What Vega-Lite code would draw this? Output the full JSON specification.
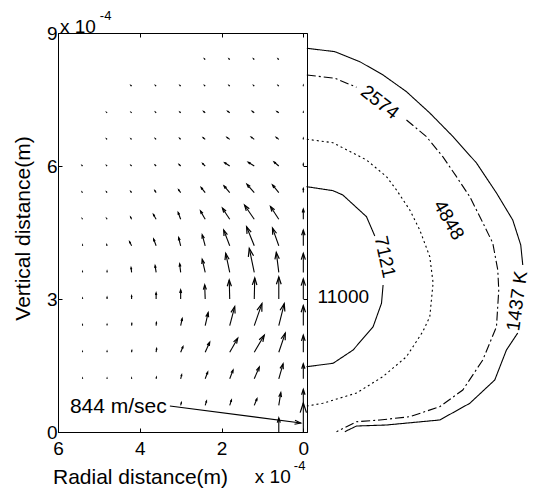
{
  "$schema": "https://vega.github.io/schema/vega-lite/v6.json",
  "width": 249,
  "height": 399,
  "autosize": {"type": "none"},
  "padding": {"left": 58, "top": 33, "right": 226, "bottom": 60},
  "background": "white",
  "config": {
    "view": {"stroke": "black", "strokeWidth": 1},
    "font": "Liberation Sans",
    "axis": {"labelFont": "Liberation Sans", "titleFont": "Liberation Sans", "labelColor": "black", "titleColor": "black", "tickColor": "black", "domainColor": "black", "grid": false, "titleFontWeight": "normal"}
  },
  "datasets": {
    "arrows": [
      {"r":2.4,"z":8.4,"r2":2.417,"z2":8.416,"dir":-45,"speed":29},
      {"r":1.8,"z":8.4,"r2":1.817,"z2":8.416,"dir":-45,"speed":29},
      {"r":1.2,"z":8.4,"r2":1.217,"z2":8.416,"dir":-45,"speed":29},
      {"r":0.6,"z":8.4,"r2":0.617,"z2":8.416,"dir":-45,"speed":29},
      {"r":4.2,"z":7.8,"r2":4.217,"z2":7.816,"dir":-45,"speed":29},
      {"r":3.6,"z":7.8,"r2":3.617,"z2":7.816,"dir":-45,"speed":29},
      {"r":3.0,"z":7.8,"r2":3.017,"z2":7.816,"dir":-45,"speed":29},
      {"r":2.4,"z":7.8,"r2":2.417,"z2":7.816,"dir":-45,"speed":29},
      {"r":1.8,"z":7.8,"r2":1.817,"z2":7.816,"dir":-45,"speed":29},
      {"r":1.2,"z":7.8,"r2":1.217,"z2":7.816,"dir":-45,"speed":29},
      {"r":0.6,"z":7.8,"r2":0.617,"z2":7.816,"dir":-45,"speed":29},
      {"r":0,"z":7.8,"r2":0,"z2":7.818,"dir":0,"speed":23},
      {"r":4.8,"z":7.2,"r2":4.812,"z2":7.211,"dir":-45,"speed":21},
      {"r":4.2,"z":7.2,"r2":4.212,"z2":7.211,"dir":-45,"speed":21},
      {"r":3.6,"z":7.2,"r2":3.615,"z2":7.214,"dir":-45,"speed":25},
      {"r":3.0,"z":7.2,"r2":3.020,"z2":7.218,"dir":-45,"speed":33},
      {"r":2.4,"z":7.2,"r2":2.437,"z2":7.229,"dir":-49,"speed":58},
      {"r":1.8,"z":7.2,"r2":1.849,"z2":7.234,"dir":-53,"speed":73},
      {"r":1.2,"z":7.2,"r2":1.249,"z2":7.234,"dir":-53,"speed":73},
      {"r":0.6,"z":7.2,"r2":0.644,"z2":7.229,"dir":-54,"speed":65},
      {"r":0,"z":7.2,"r2":0,"z2":7.216,"dir":0,"speed":20},
      {"r":4.8,"z":6.6,"r2":4.812,"z2":6.611,"dir":-45,"speed":21},
      {"r":4.2,"z":6.6,"r2":4.215,"z2":6.614,"dir":-45,"speed":25},
      {"r":3.6,"z":6.6,"r2":3.620,"z2":6.618,"dir":-45,"speed":33},
      {"r":3.0,"z":6.6,"r2":3.024,"z2":6.623,"dir":-45,"speed":41},
      {"r":2.4,"z":6.6,"r2":2.449,"z2":6.638,"dir":-50,"speed":76},
      {"r":1.8,"z":6.6,"r2":1.866,"z2":6.645,"dir":-53,"speed":98},
      {"r":1.2,"z":6.6,"r2":1.273,"z2":6.650,"dir":-54,"speed":108},
      {"r":0.6,"z":6.6,"r2":0.661,"z2":6.645,"dir":-51,"speed":93},
      {"r":0,"z":6.6,"r2":0,"z2":6.623,"dir":0,"speed":29},
      {"r":5.4,"z":6.0,"r2":5.412,"z2":6.011,"dir":-45,"speed":21},
      {"r":4.8,"z":6.0,"r2":4.812,"z2":6.011,"dir":-45,"speed":21},
      {"r":4.2,"z":6.0,"r2":4.215,"z2":6.014,"dir":-45,"speed":25},
      {"r":3.6,"z":6.0,"r2":3.624,"z2":6.023,"dir":-45,"speed":41},
      {"r":3.0,"z":6.0,"r2":3.037,"z2":6.034,"dir":-45,"speed":62},
      {"r":2.4,"z":6.0,"r2":2.461,"z2":6.056,"dir":-45,"speed":103},
      {"r":1.8,"z":6.0,"r2":1.922,"z2":6.074,"dir":-57,"speed":174},
      {"r":1.2,"z":6.0,"r2":1.347,"z2":6.083,"dir":-58,"speed":205},
      {"r":0.6,"z":6.0,"r2":0.715,"z2":6.090,"dir":-50,"speed":180},
      {"r":0,"z":6.0,"r2":0,"z2":6.045,"dir":0,"speed":58},
      {"r":5.4,"z":5.4,"r2":5.410,"z2":5.411,"dir":-39,"speed":19},
      {"r":4.8,"z":5.4,"r2":4.812,"z2":5.414,"dir":-40,"speed":23},
      {"r":4.2,"z":5.4,"r2":4.220,"z2":5.423,"dir":-39,"speed":37},
      {"r":3.6,"z":5.4,"r2":3.632,"z2":5.445,"dir":-33,"speed":69},
      {"r":3.0,"z":5.4,"r2":3.049,"z2":5.461,"dir":-37,"speed":98},
      {"r":2.4,"z":5.4,"r2":2.498,"z2":5.513,"dir":-39,"speed":186},
      {"r":1.8,"z":5.4,"r2":1.939,"z2":5.551,"dir":-40,"speed":256},
      {"r":1.2,"z":5.4,"r2":1.378,"z2":5.587,"dir":-41,"speed":322},
      {"r":0.6,"z":5.4,"r2":0.754,"z2":5.574,"dir":-39,"speed":290},
      {"r":0,"z":5.4,"r2":0,"z2":5.490,"dir":0,"speed":116},
      {"r":5.4,"z":4.8,"r2":5.407,"z2":4.811,"dir":-31,"speed":17},
      {"r":4.8,"z":4.8,"r2":4.812,"z2":4.818,"dir":-32,"speed":27},
      {"r":4.2,"z":4.8,"r2":4.224,"z2":4.845,"dir":-27,"speed":65},
      {"r":3.6,"z":4.8,"r2":3.666,"z2":4.906,"dir":-30,"speed":158},
      {"r":3.0,"z":4.8,"r2":3.061,"z2":4.951,"dir":-20,"speed":208},
      {"r":2.4,"z":4.8,"r2":2.515,"z2":4.987,"dir":-30,"speed":278},
      {"r":1.8,"z":4.8,"r2":1.978,"z2":5.048,"dir":-34,"speed":384},
      {"r":1.2,"z":4.8,"r2":1.437,"z2":5.116,"dir":-35,"speed":496},
      {"r":0.6,"z":4.8,"r2":0.803,"z2":5.086,"dir":-33,"speed":441},
      {"r":0,"z":4.8,"r2":0,"z2":5.026,"dir":0,"speed":291},
      {"r":5.4,"z":4.2,"r2":5.4,"z2":4.216,"dir":0,"speed":20},
      {"r":4.8,"z":4.2,"r2":4.807,"z2":4.223,"dir":-17,"speed":30},
      {"r":4.2,"z":4.2,"r2":4.249,"z2":4.290,"dir":-27,"speed":130},
      {"r":3.6,"z":4.2,"r2":3.661,"z2":4.351,"dir":-20,"speed":208},
      {"r":3.0,"z":4.2,"r2":3.049,"z2":4.387,"dir":-14,"speed":248},
      {"r":2.4,"z":4.2,"r2":2.473,"z2":4.448,"dir":-15,"speed":332},
      {"r":1.8,"z":4.2,"r2":1.947,"z2":4.554,"dir":-21,"speed":489},
      {"r":1.2,"z":4.2,"r2":1.388,"z2":4.629,"dir":-22,"speed":597},
      {"r":0.6,"z":4.2,"r2":0.754,"z2":4.599,"dir":-20,"speed":547},
      {"r":0,"z":4.2,"r2":0,"z2":4.554,"dir":0,"speed":457},
      {"r":5.4,"z":3.6,"r2":5.4,"z2":3.616,"dir":0,"speed":20},
      {"r":4.8,"z":3.6,"r2":4.8,"z2":3.627,"dir":0,"speed":35},
      {"r":4.2,"z":3.6,"r2":4.212,"z2":3.706,"dir":-6,"speed":138},
      {"r":3.6,"z":3.6,"r2":3.624,"z2":3.751,"dir":-8,"speed":197},
      {"r":3.0,"z":3.6,"r2":3.024,"z2":3.792,"dir":-7,"speed":249},
      {"r":2.4,"z":3.6,"r2":2.473,"z2":3.893,"dir":-13,"speed":388},
      {"r":1.8,"z":3.6,"r2":1.898,"z2":4.029,"dir":-12,"speed":565},
      {"r":1.2,"z":3.6,"r2":1.322,"z2":4.141,"dir":-12,"speed":713},
      {"r":0.6,"z":3.6,"r2":0.661,"z2":4.051,"dir":-7,"speed":587},
      {"r":0,"z":3.6,"r2":0,"z2":4.029,"dir":0,"speed":553},
      {"r":5.4,"z":3.0,"r2":5.4,"z2":3.016,"dir":0,"speed":20},
      {"r":4.8,"z":3.0,"r2":4.8,"z2":3.034,"dir":0,"speed":44},
      {"r":4.2,"z":3.0,"r2":4.2,"z2":3.068,"dir":0,"speed":87},
      {"r":3.6,"z":3.0,"r2":3.6,"z2":3.135,"dir":0,"speed":175},
      {"r":3.0,"z":3.0,"r2":3.0,"z2":3.203,"dir":0,"speed":262},
      {"r":2.4,"z":3.0,"r2":2.412,"z2":3.316,"dir":-2,"speed":407},
      {"r":1.8,"z":3.0,"r2":1.812,"z2":3.429,"dir":-1,"speed":553},
      {"r":1.2,"z":3.0,"r2":1.188,"z2":3.474,"dir":1,"speed":611},
      {"r":0.6,"z":3.0,"r2":0.6,"z2":3.496,"dir":0,"speed":640},
      {"r":0,"z":3.0,"r2":0,"z2":3.451,"dir":0,"speed":582},
      {"r":5.4,"z":2.4,"r2":5.4,"z2":2.416,"dir":0,"speed":20},
      {"r":4.8,"z":2.4,"r2":4.8,"z2":2.423,"dir":0,"speed":29},
      {"r":4.2,"z":2.4,"r2":4.195,"z2":2.445,"dir":6,"speed":58},
      {"r":3.6,"z":2.4,"r2":3.593,"z2":2.468,"dir":6,"speed":88},
      {"r":3.0,"z":2.4,"r2":2.963,"z2":2.558,"dir":12,"speed":208},
      {"r":2.4,"z":2.4,"r2":2.327,"z2":2.693,"dir":13,"speed":388},
      {"r":1.8,"z":2.4,"r2":1.678,"z2":2.829,"dir":15,"speed":572},
      {"r":1.2,"z":2.4,"r2":1.012,"z2":2.896,"dir":19,"speed":678},
      {"r":0.6,"z":2.4,"r2":0.466,"z2":2.896,"dir":14,"speed":660},
      {"r":0,"z":2.4,"r2":0,"z2":2.851,"dir":0,"speed":582},
      {"r":5.4,"z":1.8,"r2":5.4,"z2":1.811,"dir":0,"speed":15},
      {"r":4.8,"z":1.8,"r2":4.8,"z2":1.816,"dir":0,"speed":20},
      {"r":4.2,"z":1.8,"r2":4.195,"z2":1.834,"dir":8,"speed":44},
      {"r":3.6,"z":1.8,"r2":3.588,"z2":1.879,"dir":8,"speed":103},
      {"r":3.0,"z":1.8,"r2":2.944,"z2":1.924,"dir":23,"speed":173},
      {"r":2.4,"z":1.8,"r2":2.290,"z2":2.026,"dir":24,"speed":319},
      {"r":1.8,"z":1.8,"r2":1.604,"z2":2.116,"dir":30,"speed":469},
      {"r":1.2,"z":1.8,"r2":0.955,"z2":2.183,"dir":30,"speed":574},
      {"r":0.6,"z":1.8,"r2":0.441,"z2":2.229,"dir":19,"speed":584},
      {"r":0,"z":1.8,"r2":0,"z2":2.183,"dir":0,"speed":495},
      {"r":5.4,"z":1.2,"r2":5.4,"z2":1.211,"dir":0,"speed":15},
      {"r":4.8,"z":1.2,"r2":4.8,"z2":1.211,"dir":0,"speed":15},
      {"r":4.2,"z":1.2,"r2":4.2,"z2":1.216,"dir":0,"speed":20},
      {"r":3.6,"z":1.2,"r2":3.593,"z2":1.234,"dir":11,"speed":45},
      {"r":3.0,"z":1.2,"r2":2.976,"z2":1.290,"dir":14,"speed":120},
      {"r":2.4,"z":1.2,"r2":2.339,"z2":1.351,"dir":20,"speed":208},
      {"r":1.8,"z":1.2,"r2":1.719,"z2":1.396,"dir":21,"speed":271},
      {"r":1.2,"z":1.2,"r2":1.078,"z2":1.464,"dir":23,"speed":370},
      {"r":0.6,"z":1.2,"r2":0.495,"z2":1.538,"dir":16,"speed":454},
      {"r":0,"z":1.2,"r2":0,"z2":1.538,"dir":0,"speed":437},
      {"r":3.0,"z":0.6,"r2":2.983,"z2":0.661,"dir":15,"speed":81},
      {"r":2.4,"z":0.6,"r2":2.368,"z2":0.697,"dir":17,"speed":131},
      {"r":1.8,"z":0.6,"r2":1.758,"z2":0.720,"dir":18,"speed":162},
      {"r":1.2,"z":0.6,"r2":1.134,"z2":0.751,"dir":22,"speed":210},
      {"r":0.6,"z":0.6,"r2":0.551,"z2":0.886,"dir":9,"speed":374},
      {"r":0,"z":0.6,"r2":0,"z2":0.961,"dir":0,"speed":466},
      {"r":0.6,"z":0,"r2":0.6,"z2":0.316,"dir":0,"speed":407},
      {"r":0,"z":0,"r2":0,"z2":0.654,"dir":0,"speed":844}
    ],
    "contours": [
      {"c":"1437","seg":"A1","i":0,"r":-0.086,"z":8.656},
      {"c":"1437","seg":"A1","i":1,"r":-0.770,"z":8.579},
      {"c":"1437","seg":"A1","i":2,"r":-1.381,"z":8.353},
      {"c":"1437","seg":"A1","i":3,"r":-1.951,"z":8.053},
      {"c":"1437","seg":"A1","i":4,"r":-2.523,"z":7.676},
      {"c":"1437","seg":"A1","i":5,"r":-3.093,"z":7.196},
      {"c":"1437","seg":"A1","i":6,"r":-3.663,"z":6.661},
      {"c":"1437","seg":"A1","i":7,"r":-4.235,"z":6.068},
      {"c":"1437","seg":"A1","i":8,"r":-4.724,"z":5.391},
      {"c":"1437","seg":"A1","i":9,"r":-5.122,"z":4.782},
      {"c":"1437","seg":"A1","i":10,"r":-5.318,"z":4.218},
      {"c":"1437","seg":"A1","i":11,"r":-5.367,"z":3.767},
      {"c":"1437","seg":"A2","i":0,"r":-5.244,"z":2.233},
      {"c":"1437","seg":"A2","i":1,"r":-4.968,"z":1.850},
      {"c":"1437","seg":"A2","i":2,"r":-4.682,"z":1.173},
      {"c":"1437","seg":"A2","i":3,"r":-4.071,"z":0.647},
      {"c":"1437","seg":"A2","i":4,"r":-3.337,"z":0.271},
      {"c":"1437","seg":"A2","i":5,"r":-2.034,"z":0.158},
      {"c":"1437","seg":"A2","i":6,"r":-1.301,"z":0.135},
      {"c":"1437","seg":"A2","i":7,"r":-1.015,"z":0.007},
      {"c":"2574","seg":"B1","i":0,"r":-0.086,"z":8.053},
      {"c":"2574","seg":"B1","i":1,"r":-0.770,"z":7.979},
      {"c":"2574","seg":"B1","i":2,"r":-1.301,"z":7.776},
      {"c":"2574","seg":"B2","i":0,"r":-2.523,"z":7.038},
      {"c":"2574","seg":"B2","i":1,"r":-3.012,"z":6.661},
      {"c":"2574","seg":"B2","i":2,"r":-3.411,"z":6.210},
      {"c":"2574","seg":"B2","i":3,"r":-3.746,"z":5.759},
      {"c":"2574","seg":"B2","i":4,"r":-4.071,"z":5.308},
      {"c":"2574","seg":"B2","i":5,"r":-4.357,"z":4.782},
      {"c":"2574","seg":"B2","i":6,"r":-4.633,"z":4.263},
      {"c":"2574","seg":"B2","i":7,"r":-4.756,"z":3.654},
      {"c":"2574","seg":"B2","i":8,"r":-4.780,"z":3.203},
      {"c":"2574","seg":"B2","i":9,"r":-4.724,"z":2.375},
      {"c":"2574","seg":"B2","i":10,"r":-4.389,"z":1.624},
      {"c":"2574","seg":"B2","i":11,"r":-3.900,"z":0.947},
      {"c":"2574","seg":"B2","i":12,"r":-3.337,"z":0.571},
      {"c":"2574","seg":"B2","i":13,"r":-2.604,"z":0.345},
      {"c":"2574","seg":"B2","i":14,"r":-1.870,"z":0.271},
      {"c":"2574","seg":"B2","i":15,"r":-1.301,"z":0.232},
      {"c":"2574","seg":"B2","i":16,"r":-0.812,"z":0.007},
      {"c":"4848","seg":"C","i":0,"r":-0.086,"z":6.603},
      {"c":"4848","seg":"C","i":1,"r":-0.721,"z":6.526},
      {"c":"4848","seg":"C","i":2,"r":-1.545,"z":6.136},
      {"c":"4848","seg":"C","i":3,"r":-2.034,"z":5.759},
      {"c":"4848","seg":"C","i":4,"r":-2.279,"z":5.459},
      {"c":"4848","seg":"C","i":5,"r":-2.604,"z":5.008},
      {"c":"4848","seg":"C","i":6,"r":-2.848,"z":4.557},
      {"c":"4848","seg":"C","i":7,"r":-3.093,"z":3.954},
      {"c":"4848","seg":"C","i":8,"r":-3.174,"z":3.361},
      {"c":"4848","seg":"C","i":9,"r":-3.093,"z":2.601},
      {"c":"4848","seg":"C","i":10,"r":-2.922,"z":2.263},
      {"c":"4848","seg":"C","i":11,"r":-2.523,"z":1.699},
      {"c":"4848","seg":"C","i":12,"r":-1.944,"z":1.247},
      {"c":"4848","seg":"C","i":13,"r":-1.301,"z":0.880},
      {"c":"4848","seg":"C","i":14,"r":-0.477,"z":0.647},
      {"c":"4848","seg":"C","i":15,"r":-0.086,"z":0.587},
      {"c":"7121","seg":"D1","i":0,"r":-0.078,"z":5.534},
      {"c":"7121","seg":"D1","i":1,"r":-0.729,"z":5.443},
      {"c":"7121","seg":"D1","i":2,"r":-0.966,"z":5.346},
      {"c":"7121","seg":"D1","i":3,"r":-1.545,"z":4.857},
      {"c":"7121","seg":"D1","i":4,"r":-1.748,"z":4.421},
      {"c":"7121","seg":"D2","i":0,"r":-1.951,"z":3.316},
      {"c":"7121","seg":"D2","i":1,"r":-1.912,"z":2.903},
      {"c":"7121","seg":"D2","i":2,"r":-1.707,"z":2.375},
      {"c":"7121","seg":"D2","i":3,"r":-1.218,"z":1.850},
      {"c":"7121","seg":"D2","i":4,"r":-0.729,"z":1.550},
      {"c":"7121","seg":"D2","i":5,"r":-0.078,"z":1.473}
    ],
    "clabels": [
      {"t":"2574","r":-1.870,"z":7.437,"ang":38},
      {"t":"4848","r":-3.557,"z":4.782,"ang":60},
      {"t":"7121","r":-1.993,"z":3.948,"ang":78},
      {"t":"11000","r":-0.978,"z":3.052,"ang":0},
      {"t":"1437 K","r":-5.230,"z":2.955,"ang":-82}
    ],
    "note": [{"t":"844 m/sec","r":5.709,"z":0.429}],
    "leader": [{"r":3.264,"z":0.587,"r2":0.061,"z2":0.203,"dir":97}],
    "mult": [
      {"t":"x 10","r":5.954,"z":9.0},
      {"t":"x 10","r":1.186,"z":-1.150}
    ],
    "expo": [
      {"t":"-4","r":4.976,"z":9.294},
      {"t":"-4","r":0.232,"z":-0.857}
    ]
  },
  "resolve": {"axis": {"x": "independent", "y": "independent"}},
  "layer": [
    {
      "data": {"name": "arrows"},
      "mark": {"type": "rule", "color": "black", "strokeWidth": 1.1},
      "encoding": {
        "x": {"field": "r", "type": "quantitative",
              "scale": {"domain": [-0.09, 6], "reverse": true, "nice": false, "zero": false},
              "axis": {"orient": "bottom", "values": [0, 2, 4, 6], "format": "d", "domain": true, "ticks": true, "tickSize": -4,
                       "labelFlush": false, "labelOverlap": false, "labelFontSize": 19, "labelPadding": 11,
                       "title": "Radial distance(m)", "titleFontSize": 21, "titleX": 82, "titleY": 51,
                       "titleBaseline": "alphabetic", "titleAlign": "center"}},
        "x2": {"field": "r2"},
        "y": {"field": "z", "type": "quantitative",
              "scale": {"domain": [0, 9], "nice": false, "zero": false},
              "axis": {"orient": "left", "values": [0, 3, 6, 9], "format": "d", "domain": true, "ticks": true, "tickSize": -4,
                       "labelFontSize": 19, "labelPadding": 5, "labelOverlap": false,
                       "title": "Vertical distance(m)", "titleFontSize": 21, "titleAngle": 270, "titleX": -29, "titleY": 195,
                       "titleBaseline": "alphabetic", "titleAlign": "center"}},
        "y2": {"field": "z2"}
      }
    },
    {
      "data": {"name": "arrows"},
      "mark": {"type": "point", "shape": "M-0.33,1L0,0L0.33,1", "filled": false, "color": "black", "strokeWidth": 1.2, "opacity": 1},
      "encoding": {
        "x": {"field": "r2", "type": "quantitative", "axis": null},
        "y": {"field": "z2", "type": "quantitative", "axis": null},
        "angle": {"field": "dir", "type": "quantitative", "scale": null},
        "size": {"field": "speed", "type": "quantitative", "scale": {"type": "pow", "exponent": 2, "domain": [0, 844], "range": [0, 368]}, "legend": null}
      }
    },
    {
      "data": {"name": "contours"},
      "mark": {"type": "line", "color": "black", "strokeWidth": 1.1},
      "encoding": {
        "x": {"field": "r", "type": "quantitative",
              "axis": {"orient": "top", "values": [0, 2, 4, 6], "labels": false, "domain": false, "ticks": true, "tickSize": -4, "title": null}},
        "y": {"field": "z", "type": "quantitative",
              "axis": {"orient": "right", "values": [0, 3, 6, 9], "labels": false, "domain": false, "ticks": true, "tickSize": -4, "title": null}},
        "detail": {"field": "seg", "type": "nominal"},
        "order": {"field": "i", "type": "quantitative"},
        "strokeDash": {"field": "c", "type": "nominal",
                       "scale": {"domain": ["1437", "2574", "4848", "7121"], "range": [[1, 0], [9, 3, 2, 3], [2, 3], [1, 0]]},
                       "legend": null}
      }
    },
    {
      "data": {"name": "clabels"},
      "mark": {"type": "text", "font": "Liberation Sans", "fontSize": 19, "color": "black", "align": "center", "baseline": "middle"},
      "encoding": {
        "x": {"field": "r", "type": "quantitative", "axis": null},
        "y": {"field": "z", "type": "quantitative", "axis": null},
        "text": {"field": "t"},
        "angle": {"field": "ang", "type": "quantitative", "scale": null}
      }
    },
    {
      "data": {"name": "note"},
      "mark": {"type": "text", "font": "Liberation Sans", "fontSize": 21, "color": "black", "align": "left", "baseline": "alphabetic"},
      "encoding": {
        "x": {"field": "r", "type": "quantitative", "axis": null},
        "y": {"field": "z", "type": "quantitative", "axis": null},
        "text": {"field": "t"}
      }
    },
    {
      "data": {"name": "leader"},
      "mark": {"type": "rule", "color": "black", "strokeWidth": 1.1},
      "encoding": {
        "x": {"field": "r", "type": "quantitative", "axis": null},
        "x2": {"field": "r2"},
        "y": {"field": "z", "type": "quantitative", "axis": null},
        "y2": {"field": "z2"}
      }
    },
    {
      "data": {"name": "leader"},
      "mark": {"type": "point", "shape": "M-0.33,1L0,0L0.33,1", "filled": false, "color": "black", "strokeWidth": 1.1, "opacity": 1, "size": 150},
      "encoding": {
        "x": {"field": "r2", "type": "quantitative", "axis": null},
        "y": {"field": "z2", "type": "quantitative", "axis": null},
        "angle": {"field": "dir", "type": "quantitative", "scale": null}
      }
    },
    {
      "data": {"name": "mult"},
      "mark": {"type": "text", "font": "Liberation Sans", "fontSize": 19, "color": "black", "align": "left", "baseline": "alphabetic"},
      "encoding": {
        "x": {"field": "r", "type": "quantitative", "axis": null},
        "y": {"field": "z", "type": "quantitative", "axis": null},
        "text": {"field": "t"}
      }
    },
    {
      "data": {"name": "expo"},
      "mark": {"type": "text", "font": "Liberation Sans", "fontSize": 13, "color": "black", "align": "left", "baseline": "alphabetic"},
      "encoding": {
        "x": {"field": "r", "type": "quantitative", "axis": null},
        "y": {"field": "z", "type": "quantitative", "axis": null},
        "text": {"field": "t"}
      }
    }
  ]
}
